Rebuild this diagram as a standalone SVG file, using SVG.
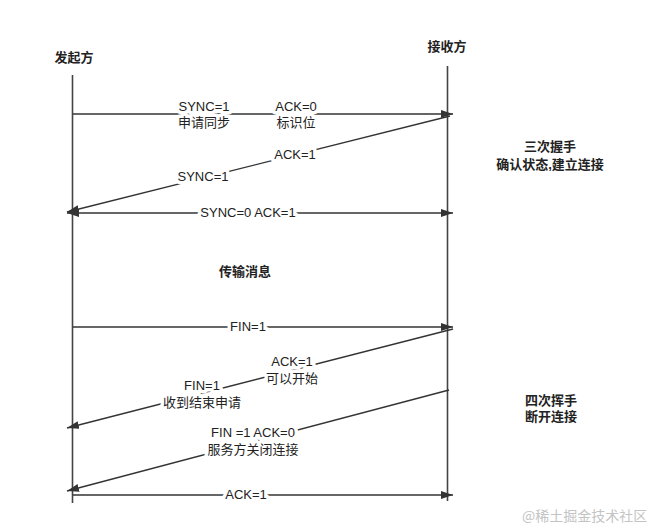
<svg xmlns="http://www.w3.org/2000/svg" width="648" height="529" viewBox="0 0 648 529">
<defs>
<marker id="ah" markerWidth="12" markerHeight="8" refX="12" refY="4" orient="auto-start-reverse" markerUnits="userSpaceOnUse">
<path d="M0,0 L12,4 L0,8 z" fill="#333"/>
</marker>
<style>
.life{stroke:#444;stroke-width:1.6;fill:none}
.msg{stroke:#333;stroke-width:1.4;fill:none;marker-end:url(#ah)}
.both{marker-start:url(#ah)}
text{font-family:"Liberation Sans","Noto Sans CJK SC",sans-serif;font-size:13px;fill:#222}
.lbl{text-anchor:middle;paint-order:stroke;stroke:#fff;stroke-width:7px;stroke-linejoin:round}
.hd{font-weight:bold;text-anchor:middle}
.note{font-weight:bold}
.wm{fill:#c4c4c4;font-family:"Noto Sans CJK SC",serif;font-size:14px}
</style>
</defs>
<rect width="648" height="529" fill="#fff"/>
<g id="initiator">
<line class="life" x1="72.5" y1="75" x2="72.5" y2="503"/>
<text class="hd" x="74" y="62">发起方</text>
</g>
<g id="receiver">
<line class="life" x1="447.5" y1="66" x2="447.5" y2="501"/>
<text class="hd" x="447" y="51">接收方</text>
</g>
<g id="connectors">
<line class="msg" x1="73" y1="114" x2="453" y2="114"/>
<line class="msg" x1="450" y1="116" x2="67" y2="212"/>
<line class="msg both" x1="67" y1="213" x2="453" y2="213"/>
<line class="msg" x1="73" y1="327" x2="453" y2="327"/>
<line class="msg" x1="453" y1="329" x2="67" y2="428"/>
<line class="msg" x1="449" y1="390" x2="67" y2="491"/>
<line class="msg" x1="73" y1="495" x2="453" y2="495"/>
</g>
<g id="labels">
<text class="lbl" x="204" y="111">SYNC=1</text>
<text class="lbl" x="204" y="127">申请同步</text>
<text class="lbl" x="296" y="111">ACK=0</text>
<text class="lbl" x="296" y="127">标识位</text>
<text class="lbl" x="295" y="159">ACK=1</text>
<text class="lbl" x="203" y="181">SYNC=1</text>
<text class="lbl" x="248" y="217">SYNC=0 ACK=1</text>
<text class="lbl" x="248" y="331">FIN=1</text>
<text class="lbl" x="292" y="366">ACK=1</text>
<text class="lbl" x="292" y="383">可以开始</text>
<text class="lbl" x="202" y="390">FIN=1</text>
<text class="lbl" x="202" y="407">收到结束申请</text>
<text class="lbl" x="253" y="437">FIN =1 ACK=0</text>
<text class="lbl" x="253" y="454">服务方关闭连接</text>
<text class="lbl" x="246" y="499">ACK=1</text>
</g>
<g id="transfer">
<text class="hd" x="245" y="276">传输消息</text>
</g>
<g id="handshake">
<text class="hd" x="550" y="151">三次握手</text>
<text class="hd" x="550" y="169">确认状态,建立连接</text>
</g>
<g id="wave">
<text class="note" x="525" y="405">四次挥手</text>
<text class="note" x="525" y="421">断开连接</text>
</g>
<text class="wm" x="522" y="521">@稀土掘金技术社区</text>
</svg>
